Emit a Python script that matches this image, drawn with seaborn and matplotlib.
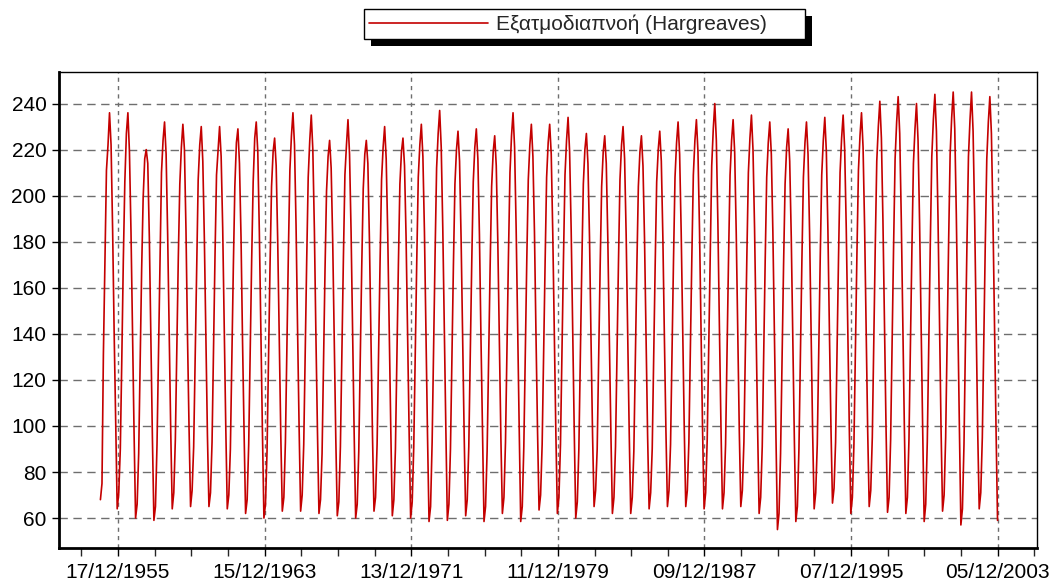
import numpy as np
import pandas as pd
import matplotlib
matplotlib.use("Agg")
import matplotlib.pyplot as plt
import matplotlib.dates as mdates
from matplotlib.patches import Rectangle
import seaborn as sns

# ---------------- data (monthly values, Jan..Dec per row) ----------------
series_label = "Εξατμοδιαπνοή (Hargreaves)"
first_month = "1955-01-01"

et_1950s = [
    68, 75, 131, 172, 211, 222, 236, 222, 185, 141, 101, 64,
    71, 90, 128, 172, 206, 227, 236, 219, 184, 140, 97, 60,
    66, 88, 125, 168, 199, 216, 220, 214, 182, 138, 95, 59,
    65, 92, 130, 171, 210, 224, 232, 218, 183, 142, 98, 64,
    71, 94, 132, 173, 205, 221, 231, 220, 185, 139, 99, 65,
]
et_1960s = [
    72, 91, 129, 170, 207, 222, 230, 215, 181, 140, 96, 65,
    71, 93, 131, 174, 209, 220, 230, 217, 186, 143, 100, 64,
    70, 90, 127, 169, 204, 223, 229, 214, 182, 137, 97, 62,
    68, 92, 130, 172, 206, 225, 232, 219, 184, 141, 98, 60,
    66, 89, 128, 170, 204, 219, 225, 213, 180, 138, 96, 63,
    69, 93, 133, 175, 211, 226, 236, 222, 187, 142, 99, 63,
    70, 92, 130, 172, 208, 224, 235, 220, 185, 140, 98, 62,
    68, 88, 126, 168, 202, 217, 224, 212, 180, 137, 95, 61,
    67, 91, 131, 173, 209, 222, 233, 218, 184, 141, 97, 60,
    66, 89, 127, 169, 203, 218, 224, 214, 181, 138, 96, 63,
]
et_1970s = [
    69, 92, 130, 171, 207, 221, 230, 216, 183, 140, 98, 61,
    68, 90, 128, 170, 205, 219, 225, 213, 182, 139, 97, 60,
    67, 91, 130, 172, 208, 222, 231, 217, 184, 141, 96, 58.5,
    65, 93, 132, 175, 212, 227, 237, 221, 186, 142, 99, 59,
    66, 90, 128, 170, 205, 220, 228, 215, 181, 138, 96, 61,
    68, 91, 129, 171, 206, 221, 229, 216, 183, 139, 97, 58.5,
    65, 89, 127, 169, 204, 219, 226, 213, 180, 137, 95, 62,
    69, 93, 132, 174, 210, 226, 236, 221, 186, 142, 99, 58.5,
    65, 91, 130, 172, 207, 222, 231, 217, 184, 140, 98, 63.5,
    70, 92, 130, 171, 208, 223, 231, 218, 183, 141, 97, 62,
]
et_1980s = [
    69, 92, 131, 173, 209, 224, 234, 219, 185, 141, 98, 60,
    67, 90, 128, 170, 205, 220, 227, 214, 182, 138, 96, 65,
    72, 90, 127, 169, 204, 219, 226, 214, 181, 138, 97, 62,
    69, 91, 129, 171, 207, 222, 230, 216, 183, 140, 97, 62,
    69, 89, 127, 169, 204, 219, 226, 213, 181, 138, 96, 64,
    71, 90, 128, 170, 206, 220, 228, 215, 182, 139, 98, 65,
    72, 92, 130, 172, 208, 223, 232, 218, 184, 141, 99, 65,
    72, 93, 131, 173, 209, 224, 233, 219, 185, 141, 98, 64,
    71, 94, 133, 176, 213, 229, 240, 224, 188, 143, 100, 64,
    71, 92, 131, 173, 209, 224, 233, 219, 184, 141, 98, 65,
]
et_1990s = [
    72, 93, 132, 174, 210, 225, 235, 220, 186, 142, 99, 62,
    69, 91, 130, 172, 208, 223, 232, 218, 184, 140, 96, 55,
    62, 88, 128, 170, 205, 221, 229, 215, 182, 139, 95, 58.5,
    65, 90, 130, 172, 208, 223, 232, 218, 184, 140, 97, 64,
    71, 92, 131, 173, 209, 224, 234, 219, 185, 141, 99, 66.5,
    73, 93, 132, 174, 210, 225, 235, 220, 186, 142, 99, 62,
    69, 92, 132, 175, 211, 226, 236, 221, 186, 142, 98, 65,
    72, 95, 135, 178, 215, 230, 241, 225, 189, 144, 100, 62.5,
    69, 94, 135, 178, 216, 232, 243, 227, 190, 145, 100, 62,
    69, 94, 134, 177, 214, 229, 240, 224, 188, 143, 99, 58.5,
]
et_2000s = [
    66, 93, 135, 179, 217, 233, 244, 228, 191, 145, 99, 63,
    70, 95, 136, 180, 218, 234, 245, 229, 192, 146, 100, 57,
    64, 92, 135, 179, 217, 233, 245, 228, 191, 145, 98, 64,
    71, 95, 136, 179, 216, 232, 243, 227, 190, 144, 99, 59,
]

# axis ticks
y_ticks = [60, 80, 100, 120, 140, 160, 180, 200, 220, 240]
first_tick = "1955-12-17"
tick_step_days = 2920
n_major_ticks = 7

# ---------------- build frame ----------------
values = et_1950s + et_1960s + et_1970s + et_1980s + et_1990s + et_2000s
dates = pd.date_range(first_month, periods=len(values), freq="MS")
df = pd.DataFrame({"date": dates, "et": values})

major_dates = [pd.Timestamp(first_tick) + pd.Timedelta(days=tick_step_days * k)
               for k in range(n_major_ticks)]
minor_dates = [pd.Timestamp(first_tick) + pd.Timedelta(days=tick_step_days // 4 * k)
               for k in range(-1, 4 * (n_major_ticks - 1) + 2)]
major_labels = [d.strftime("%d/%m/%Y") for d in major_dates]

# ---------------- style ----------------
sns.set_style("white")
plt.rcParams["font.family"] = ["Liberation Sans", "DejaVu Sans"]

W, H, DPI = 1056, 586, 100
fig = plt.figure(figsize=(W / DPI, H / DPI), dpi=DPI, facecolor="white")
ax = fig.add_axes([59 / W, 1 - 548 / H, (1037 - 59) / W, (548 - 72) / H])
ax.set_facecolor("white")

line_color = "#c40000"
sns.lineplot(data=df, x="date", y="et", ax=ax, color=line_color,
             linewidth=1.2, label=series_label, sort=False)
ax.get_legend().remove()

# limits
ax.set_ylim(47.0, 253.7)
x0 = mdates.date2num(pd.Timestamp(first_tick) - pd.Timedelta(days=1175))
x1 = mdates.date2num(major_dates[-1] + pd.Timedelta(days=782))
ax.set_xlim(x0, x1)

# ticks
ax.set_xticks(mdates.date2num(major_dates))
ax.set_xticklabels(major_labels)
ax.set_xticks(mdates.date2num(minor_dates), minor=True)
ax.set_yticks(y_ticks)
ax.set_yticklabels([str(v) for v in y_ticks])
ax.tick_params(axis="x", which="major", direction="out", length=6, width=1,
               pad=5, labelsize=15, colors="black", bottom=True)
ax.tick_params(axis="x", which="minor", direction="out", length=6, width=1,
               bottom=True)
ax.tick_params(axis="y", which="major", direction="out", length=5, width=1,
               pad=4, labelsize=15, colors="black", left=True)
ax.set_xlabel("")
ax.set_ylabel("")

# grid
ax.set_axisbelow(True)
ax.grid(False)
ax.yaxis.grid(True, color="#6e6e6e", linewidth=1.0, linestyle=(0, (6, 4)))
ax.xaxis.grid(True, which="major", color="#6e6e6e", linewidth=1.0,
              linestyle=(0, (3, 3)))

# spines
for side in ["left", "bottom"]:
    ax.spines[side].set_linewidth(2.0)
    ax.spines[side].set_color("black")
for side in ["top", "right"]:
    ax.spines[side].set_linewidth(1.0)
    ax.spines[side].set_color("black")
    ax.spines[side].set_visible(True)

# legend at top with drop shadow
handle = ax.get_lines()[0]
leg = fig.legend([handle], [series_label], loc="upper left",
                 bbox_to_anchor=(364 / W, 1 - 42.7 / H, 441 / W, 33.4 / H),
                 bbox_transform=fig.transFigure, mode="expand",
                 borderaxespad=0, borderpad=0.25, handlelength=5.7,
                 handletextpad=0.4, fontsize=15, frameon=True, fancybox=False,
                 framealpha=1, edgecolor="black", facecolor="white")
leg.get_frame().set_linewidth(1.0)

fig.canvas.draw()
bb = leg.get_window_extent()
inv = fig.transFigure.inverted()
(sx0, sy0) = inv.transform((bb.x0 + 7, bb.y0 - 7))
(sx1, sy1) = inv.transform((bb.x1 + 7, bb.y1 - 7))
shadow = Rectangle((sx0, sy0), sx1 - sx0, sy1 - sy0, transform=fig.transFigure,
                   facecolor="black", edgecolor="none", zorder=leg.get_zorder() - 0.5)
fig.add_artist(shadow)

fig.savefig("out.png", dpi=DPI, facecolor="white")
